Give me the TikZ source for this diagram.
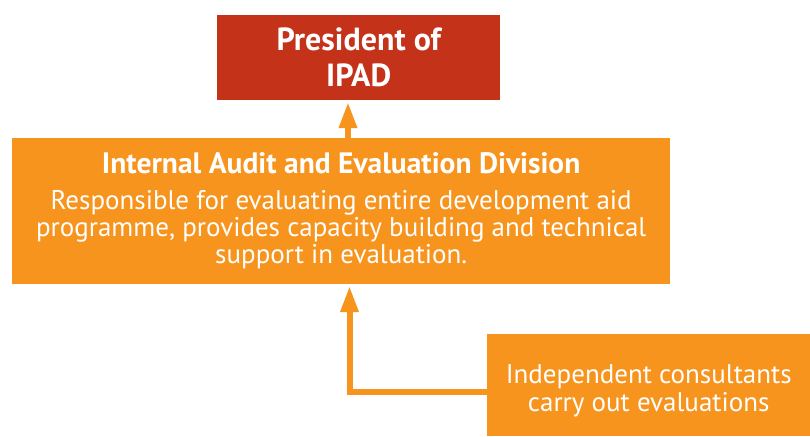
\documentclass[tikz,border=0pt]{standalone}
\usepackage{fontspec}
\setmainfont{PT Sans}
\usetikzlibrary{arrows.meta}
\definecolor{pred}{HTML}{C4321A}
\definecolor{porange}{HTML}{F7941D}
\begin{document}
\begin{tikzpicture}[x=1pt,y=-1pt,
  box/.style={fill=#1, text=white, inner sep=0pt, align=center, anchor=north west},
  lbl/.style={text=white, inner sep=0pt, align=center},
  arr/.style={draw=porange, line width=6pt, -{Triangle[width=17pt,length=26pt]}},
]
\useasboundingbox (0,0) rectangle (810,436);
\node[box=pred, minimum width=283pt, minimum height=85pt, font=\fontsize{32}{36}\selectfont\bfseries] (pres) at (217,15) {President of\\IPAD};
\node[box=porange, minimum width=658pt, minimum height=146pt, font=\fontsize{27}{27}\selectfont] (mid) at (12,138)
  {{\fontsize{29.5}{27}\selectfont\bfseries Internal Audit and Evaluation Division}\\[9pt]
   Responsible for evaluating entire development aid\\
   programme, provides capacity building and technical\\
   support in evaluation.};
\node[box=porange, minimum width=323pt, minimum height=102pt] (cons) at (487,334) {};
\node[lbl, font=\fontsize{27}{28}\selectfont] (constext) at ([yshift=-6pt]cons.center)
  {Independent consultants\\carry out evaluations};
\coordinate (t1) at (348,102);
\draw[arr] (mid.north -| t1) -- (t1);
\coordinate (t2) at (349.5,286);
\draw[arr] (cons.west |- 0,392) -| (t2);
\end{tikzpicture}
\end{document}
